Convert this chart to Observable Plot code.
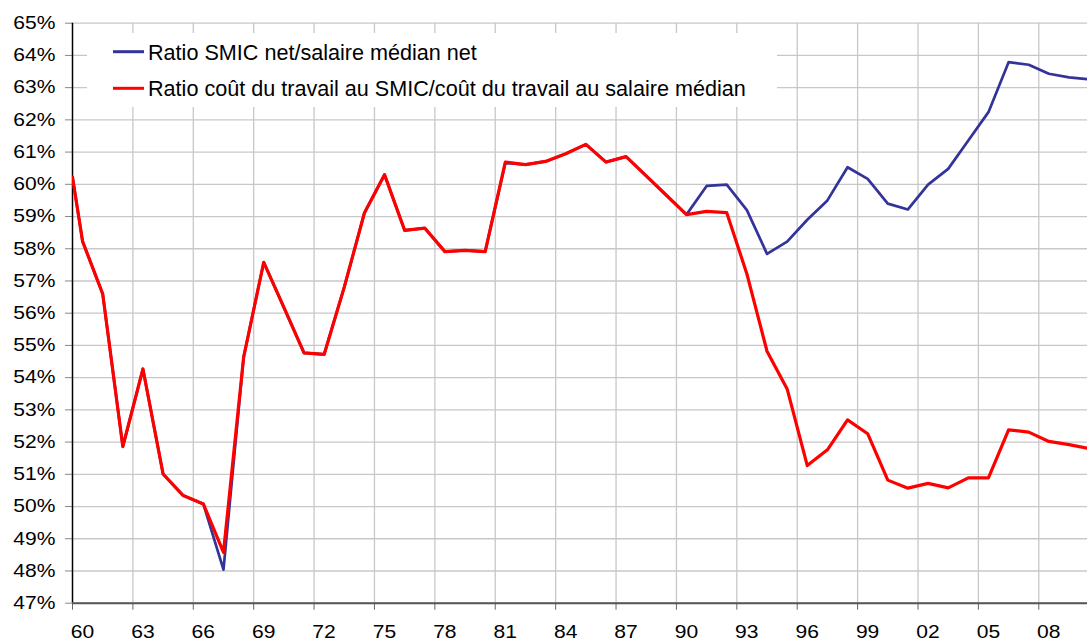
<!DOCTYPE html>
<html>
<head>
<meta charset="utf-8">
<script src="https://cdn.jsdelivr.net/npm/d3@7"></script>
<script src="https://cdn.jsdelivr.net/npm/@observablehq/plot@0.6"></script>
<style>
  html, body { margin: 0; padding: 0; background: #fff; }
  #wrap { position: relative; width: 1087px; height: 641px; overflow: hidden; }
  #legend { position: absolute; left: 87px; top: 33px; width: 690px; height: 74px; background: #fff; }
  svg text { font-family: "Liberation Sans", Arial, sans-serif; }
</style>
</head>
<body>
<div id="wrap"><div id="chart"></div><svg id="legend" width="690" height="74"></svg></div>
<script>
const years = [1960, 1960.5, 1961.5, 1962.5, 1963.5, 1964.5, 1965.5, 1966.5, 1967.5, 1968.5,
  1969.5, 1970.5, 1971.5, 1972.5, 1973.5, 1974.5, 1975.5, 1976.5, 1977.5, 1978.5,
  1979.5, 1980.5, 1981.5, 1982.5, 1983.5, 1984.5, 1985.5, 1986.5, 1987.5, 1988.5,
  1989.5, 1990.5, 1991.5, 1992.5, 1993.5, 1994.5, 1995.5, 1996.5, 1997.5, 1998.5,
  1999.5, 2000.5, 2001.5, 2002.5, 2003.5, 2004.5, 2005.5, 2006.5, 2007.5, 2008.5,
  2009.5, 2010.5];
const smicNet = [60.22, 58.23, 56.60, 51.86, 54.27, 51.01, 50.34, 50.08, 48.04, 54.63,
  57.58, 56.18, 54.77, 54.72, 56.81, 59.11, 60.30, 58.57, 58.64, 57.91,
  57.95, 57.91, 60.66, 60.61, 60.71, 60.95, 61.24, 60.69, 60.86, 60.26,
  59.66, 59.06, 59.95, 59.99, 59.20, 57.84, 58.22, 58.90, 59.50, 60.53,
  60.17, 59.40, 59.22, 59.99, 60.48, 61.36, 62.24, 63.79, 63.71, 63.43,
  63.32, 63.26];
const coutTravail = [60.22, 58.23, 56.60, 51.86, 54.27, 51.01, 50.34, 50.08, 48.58, 54.63,
  57.58, 56.18, 54.77, 54.72, 56.81, 59.11, 60.30, 58.57, 58.64, 57.91,
  57.95, 57.91, 60.69, 60.61, 60.71, 60.95, 61.24, 60.69, 60.86, 60.26,
  59.66, 59.06, 59.16, 59.12, 57.22, 54.82, 53.65, 51.27, 51.76, 52.69,
  52.26, 50.82, 50.57, 50.72, 50.58, 50.89, 50.89, 52.38, 52.31, 52.02,
  51.92, 51.80];
const seriesNames = ["Ratio SMIC net/salaire médian net",
  "Ratio coût du travail au SMIC/coût du travail au salaire médian"];
const seriesColors = ["#333399", "#ff0000"];
const yTicks = d3.range(47, 66, 1);
const xTicks = d3.range(1960, 2009, 3);

const blue = years.map((y, i) => ({year: y, v: smicNet[i]}));
const red = years.map((y, i) => ({year: y, v: coutTravail[i]}));

const plot = Plot.plot({
  width: 1087,
  height: 641,
  marginTop: 22.7,
  marginBottom: 38.3,
  marginLeft: 72,
  marginRight: 0,
  style: {fontFamily: '"Liberation Sans", Arial, sans-serif', fontSize: "18px", color: "#000", background: "#fff"},
  x: {domain: [1960, 2010.42], label: null},
  y: {domain: [47, 65], label: null},
  marks: [
    Plot.gridY(yTicks, {stroke: "#c8c8c8", strokeOpacity: 1, strokeWidth: 1.3}),
    Plot.gridX(xTicks.filter(d => d > 1960), {stroke: "#c8c8c8", strokeOpacity: 1, strokeWidth: 1.3}),
    Plot.axisY(yTicks, {tickSize: 7, tickPadding: 10, tickFormat: d => d + "%", stroke: "#888", fill: "#000", fontSize: 18, label: null}),
    Plot.axisX(xTicks, {tickSize: 7, tickFormat: () => "", stroke: "#666", label: null}),
    Plot.axisX(xTicks, {tickSize: 0, tickPadding: 22, tickFormat: d => String(d % 100).padStart(2, "0"), dx: 10, fill: "#000", fontSize: 18, label: null}),
    Plot.ruleX([1960], {stroke: "#000", strokeWidth: 1.5}),
    Plot.ruleY([47], {stroke: "#555", strokeWidth: 2}),
    Plot.line(blue, {x: "year", y: "v", stroke: seriesColors[0], strokeWidth: 2.7, clip: true}),
    Plot.line(red, {x: "year", y: "v", stroke: seriesColors[1], strokeWidth: 3.2, clip: true})
  ]
});
document.getElementById("chart").appendChild(plot);

// horizontally stretch tick labels to match the reference's wide glyphs
const sx = 1.17;
plot.querySelectorAll("text").forEach(t => {
  const xa = t.getAttribute("x");
  const x = (xa && !/[a-z%]/i.test(xa)) ? parseFloat(xa) : 0;
  const tr = t.getAttribute("transform") || "";
  t.setAttribute("transform", `${tr} translate(${x},0) scale(${sx},1) translate(${-x},0)`);
});

// legend
const lg = d3.select("#legend");
seriesNames.forEach((name, i) => {
  const cy = 18.7 + i * 36.6;
  lg.append("line").attr("x1", 26).attr("x2", 57).attr("y1", cy).attr("y2", cy)
    .attr("stroke", seriesColors[i]).attr("stroke-width", 3);
  lg.append("text").attr("x", 61).attr("y", cy + 8).attr("font-size", 21.6).attr("fill", "#000").text(name);
});
</script>
</body>
</html>
